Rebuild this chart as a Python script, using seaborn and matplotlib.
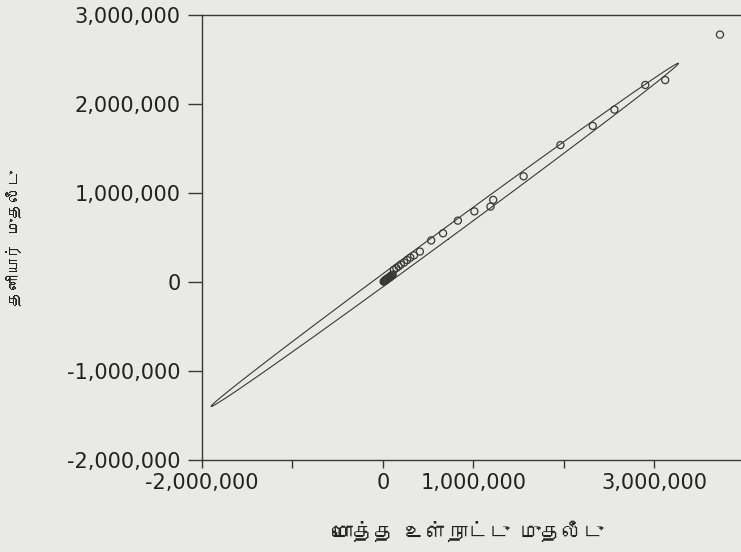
import numpy as np
import matplotlib
matplotlib.use('Agg')
import matplotlib.pyplot as plt
import seaborn as sns
from matplotlib import font_manager
from matplotlib.ticker import FuncFormatter
from fontTools.ttLib import TTFont

# values (rupees)
total_investment = [3725000, 3120000, 2900000, 2559000, 2320000, 1963000, 1556000,
                    1220000, 1190000, 1012000, 830000, 666000, 535000, 410000,
                    345000, 305000, 270000, 237000, 200000, 175000, 150000, 123000,
                    110000, 100000, 90000, 85000, 80000, 70000, 65000, 60000, 50000,
                    45000, 40000, 35000, 30000, 25000, 20000, 15000, 10000]
private_investment = [2780000, 2270000, 2215000, 1938000, 1755000, 1540000, 1190000,
                      925000, 850000, 796000, 692000, 550000, 470000, 345000,
                      302000, 277000, 250000, 222000, 200000, 178000, 160000, 140000,
                      85000, 80000, 70000, 65000, 60000, 55000, 50000, 45000, 40000,
                      35000, 30000, 30000, 25000, 20000, 15000, 12000, 8000]

x_ticks = [-2000000, -1000000, 0, 1000000, 2000000, 3000000]
x_tick_labels = ['-2,000,000', '', '0', '1,000,000', '', '3,000,000']
y_ticks = [-2000000, -1000000, 0, 1000000, 2000000, 3000000]

x_label = 'மொத்த உள்நாட்டு முதலீடு'
y_label = 'தனியார் முதலீடு'

# find an installed font that has Tamil letters
tamil_font = None
for f in font_manager.fontManager.ttflist:
    try:
        cmap = TTFont(f.fname, fontNumber=0, lazy=True).getBestCmap()
    except Exception:
        continue
    if cmap and 0x0BA4 in cmap:
        tamil_font = f.name
        break
label_family = [tamil_font, 'DejaVu Sans'] if tamil_font else ['DejaVu Sans']

sns.set_style('ticks')
plt.rcParams['font.family'] = ['DejaVu Sans']

paper = '#e9e9e5'
ink = '#383838'

fig = plt.figure(figsize=(7.41, 5.52), dpi=100, facecolor=paper)
ax = fig.add_axes([0.2722, 0.1658, 0.733, 0.807])
ax.set_facecolor(paper)

sns.scatterplot(x=total_investment, y=private_investment, ax=ax, marker='o', s=26,
                facecolors='none', edgecolor=ink, linewidth=0.9, zorder=3)

# 95% density ellipse of the two series (F based, like JMP)
xy = np.column_stack([total_investment, private_investment]).astype(float)
n = len(xy)
center = xy.mean(axis=0)
cov = np.cov(xy, rowvar=False)
vals, vecs = np.linalg.eigh(cov)
m = n - 2
f95 = (m / 2) * (0.05 ** (-2 / m) - 1)
c = 2 * (n - 1) / (n - 2) * f95
t = np.linspace(0, 2 * np.pi, 600)
circle = np.vstack([np.cos(t), np.sin(t)])
ell = vecs @ (np.sqrt(c * vals)[:, None] * circle) + center[:, None]
ax.plot(ell[0], ell[1], color=ink, linewidth=0.8, zorder=2)

ax.set_xlim(-2000000, 4000000)
ax.set_ylim(-2000000, 3000000)
ax.set_xticks(x_ticks)
ax.set_xticklabels(x_tick_labels)
ax.set_yticks(y_ticks)
ax.yaxis.set_major_formatter(FuncFormatter(lambda v, p: f'{int(v):,}'))

for s in ['left', 'bottom', 'top']:
    ax.spines[s].set_color(ink)
    ax.spines[s].set_linewidth(1.0)
ax.spines['top'].set_visible(True)
ax.spines['right'].set_visible(False)

ax.tick_params(axis='y', length=10, width=1, color=ink, labelsize=15,
               labelcolor='#222222', pad=5)
ax.tick_params(axis='x', length=6, width=1, color=ink, labelsize=15,
               labelcolor='#222222', pad=3)

ax.set_xlabel(x_label, family=label_family, fontsize=15, color='#222222')
ax.set_ylabel(y_label, family=label_family, fontsize=11.5, color='#222222')
ax.xaxis.set_label_coords(0.49, -0.136)
ax.yaxis.set_label_coords(-0.331, 0.5)

fig.savefig('out.png', dpi=100, facecolor=paper)
